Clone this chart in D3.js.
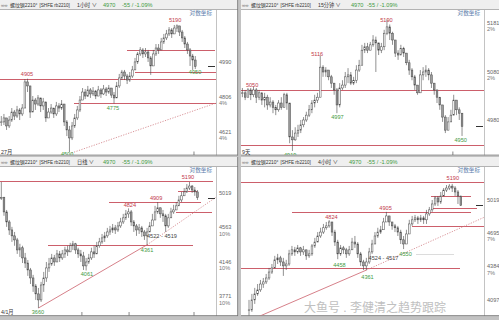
<!DOCTYPE html>
<html lang="zh">
<head>
<meta charset="utf-8">
<title>螺纹钢2210 四周期</title>
<script src="https://d3js.org/d3.v7.min.js"></script>
<style>
  body { margin: 0; background: #c2c2c2; }
  svg { display: block; }
  text { font-family: "Liberation Sans", Arial, "Noto Sans CJK SC", sans-serif; }
</style>
</head>
<body>
<svg id="chart" width="499" height="320"></svg>
<script>
// ---------- data ----------
// panel 1: 1小时
var p1Close = [4678,4699,4657,4688,4730,4709,4741,4720,4751,4888, 4867,4730,4793,4772,4804,4762,4783,4699,4730,4751,
  4720,4762,4751,4772,4678,4636,4594,4657,4699,4741, 4793,4835,4814,4846,4825,4840,4814,4846,4825,4851,
  4835,4856,4819,4804,4867,4909,4940,4919,4898,4919, 4951,4993,5035,5056,5035,5045,5014,4972,5035,5066,
  5056,5098,5119,5140,5161,5140,5171,5182,5150,5119, 5087,5056,5024,5003,4970];
var p1High = [4709,4720,4699,4709,4751,4741,4762,4751,4772,4903, 4905,4867,4814,4804,4819,4804,4804,4783,4751,4772,
  4751,4783,4777,4793,4772,4688,4657,4678,4720,4762, 4814,4856,4851,4867,4856,4861,4846,4867,4856,4872,
  4861,4872,4856,4835,4888,4930,4951,4951,4930,4940, 4972,5014,5045,5071,5066,5066,5056,5024,5056,5087,
  5087,5119,5140,5161,5176,5171,5187,5190,5182,5161, 5129,5098,5066,5035,5024];
var p1Low = [4657,4662,4636,4646,4678,4688,4699,4688,4709,4751, 4835,4699,4730,4741,4762,4730,4741,4678,4699,4720,
  4699,4709,4730,4741,4657,4604,4520,4583,4646,4688, 4730,4793,4798,4809,4804,4814,4798,4814,4804,4819,
  4814,4825,4804,4775,4804,4856,4898,4898,4877,4888, 4909,4951,4982,5024,5014,5019,4993,4925,4972,5024,
  5035,5056,5087,5108,5129,5119,5140,5150,5129,5098, 5066,5035,4972,4951,4956];
var p1Lines = [[4905, 0, 82.4], [5055, 48.5, 82.1], [4775, 28.2, 82.4], [4940, 51.5, 82.4]];
var p1TrendSolid = [];
var p1TrendDotted = [[27.3, 4515], [82.4, 4777]];
var p1Marks = [["4905", 10.3, 4930, "hi"], ["5190", 66.8, 5213, "hi"], ["4775", 43.1, 4751, "lo"],
  ["4500", 25.6, 4510, "lo"], ["4950", 74.4, 4940, "lo"]];
var p1Axis = [4990, 4806, 4621];
var p1AxisPct = ["", "4%", "4%"];
var p1Ticks = [74];

// panel 2: 15分钟
var p2Close = [5039,5030,5045,5035,5045,5030,5039,5024,5030,5014, 5020,5009,5004,5018,5009,5035,5018,4948,4942,4956,
  4962,4973,4983,4993,5004,5018,5024,5030,5092,5082, 5086,5072,5059,5045,5014,5049,5055,5072,5076,5059,
  5065,5086,5096,5127,5134,5127,5138,5148,5142,5127, 5134,5162,5175,5162,5148,5121,5117,5130,5121,5101,
  5086,5072,5055,5039,5076,5082,5086,5076,5059,5045, 5030,5014,4989,4962,4979,4993,5024,5004,4997,4970];
var p2High = [5049,5045,5049,5049,5052,5049,5045,5039,5039,5035, 5030,5024,5014,5024,5030,5039,5039,4983,4962,4968,
  4973,4983,4989,5000,5014,5024,5035,5039,5116,5096, 5092,5086,5076,5059,5049,5059,5065,5082,5090,5082,
  5072,5096,5107,5138,5142,5142,5144,5158,5155,5134, 5142,5169,5190,5180,5165,5148,5127,5138,5134,5121,
  5107,5090,5076,5055,5086,5092,5096,5090,5082,5059, 5045,5030,5014,4993,4989,5004,5035,5024,5009,4997];
var p2Low = [5030,5024,5030,5024,5030,5018,5024,5014,5009,5004, 5009,4997,4993,5000,5004,5009,5004,4935,4919,4940,
  4948,4956,4968,4979,4989,4997,5009,5018,5030,5072, 5072,5065,5049,5035,4997,5009,5045,5049,5059,5055,
  5055,5059,5082,5096,5121,5121,5127,5134,5082,5117, 5121,5127,5158,5148,5138,5113,5107,5117,5113,5096,
  5076,5065,5045,5035,5039,5065,5072,5065,5049,5035, 5018,5004,4979,4956,4962,4979,4993,4993,4983,4950];
var p2Lines = [[5045, 0, 87.4], [4931, 0, 87.4]];
var p2TrendSolid = [];
var p2TrendDotted = [];
var p2Marks = [["5050", 4, 5055, "hi"], ["5116", 27.4, 5119, "hi"], ["5190", 52.3, 5189, "hi"],
  ["4997", 34.7, 4989, "lo"], ["4919", 17.7, 4911, "lo"], ["4950", 79, 4942, "lo"]];
var p2Axis = [5181, 5080, 4980];
var p2AxisPct = ["2%", "2%", ""];
var p2Ticks = [76.2];

// panel 3: 日线
var p3Close = [4969,4777,4646,4544,4470,4420,4299,4325,4205,4146, 4067,3978,3890,3806,3743,3901,3978,4090,4135,4205,
  4158,4252,4205,4252,4299,4276,4349,4373,4299,4252, 4228,4113,4158,4205,4276,4252,4349,4396,4445,4470,
  4519,4544,4570,4544,4595,4646,4699,4751,4777,4646, 4595,4544,4570,4519,4470,4519,4595,4671,4777,4832,
  4751,4726,4595,4699,4777,4803,4858,4938,4995,5049, 5104,5132,5076,5049,4970];
var p3High = [5190,4982,4803,4671,4583,4519,4445,4373,4349,4264, 4181,4090,4012,3912,3869,3935,4045,4158,4205,4252,
  4240,4299,4287,4299,4337,4349,4384,4408,4384,4325, 4299,4276,4205,4252,4325,4349,4396,4445,4494,4519,
  4570,4595,4620,4608,4646,4699,4751,4803,4824,4803, 4671,4620,4620,4595,4544,4570,4646,4751,4858,4909,
  4832,4803,4751,4751,4832,4872,4909,4995,5049,5104, 5161,5190,5147,5118,5076];
var p3Low = [4938,4726,4583,4482,4396,4349,4252,4217,4146,4090, 4001,3912,3827,3743,3660,3722,3827,3935,4045,4113,
  4113,4158,4158,4181,4205,4228,4276,4299,4252,4205, 4158,4067,4061,4135,4181,4205,4276,4325,4373,4396,
  4445,4482,4507,4494,4519,4570,4620,4671,4699,4595, 4519,4470,4494,4458,4420,4361,4522,4595,4699,4751,
  4699,4646,4519,4570,4699,4751,4803,4858,4909,4995, 5035,5076,5035,4995,4938];
var p3Lines = [[5200, 0, 80.4], [5061, 67.2, 74.3], [4909, 41.1, 75.8], [4782, 66.4, 80], [4361, 18.1, 72.8]];
var p3TrendSolid = [[14.5, 3660], [55.5, 4361]];
var p3TrendDotted = [[55.5, 4361], [81.5, 4976]];
var p3Marks = [["5190", 70.9, 5262, "hi"], ["4824", 49, 4872, "hi"], ["4909", 58.9, 4969, "hi"],
  ["4522 - 4519", 61.1, 4470, "note"], ["4361", 55.5, 4299, "lo"], ["4061", 32.8, 4023, "lo"], ["3660", 14.3, 3620, "lo"]];
var p3Axis = [5019, 4563, 4146, 3771];
var p3AxisPct = ["", "10%", "10%", "10%"];
var p3Ticks = [30.9, 48.7, 73.2];

// panel 4: 4小时
var p4Close = [4024,4106,4156,4190,4240,4258,4292,4344,4380,4452, 4470,4433,4398,4415,4506,4543,4524,4561,4524,4543,
  4488,4506,4579,4615,4672,4709,4750,4768,4806,4709, 4615,4506,4561,4543,4506,4543,4615,4597,4506,4433,
  4398,4433,4524,4597,4672,4709,4731,4806,4865,4806, 4768,4750,4709,4636,4597,4691,4787,4827,4846,4827,
  4846,4827,4885,4925,4984,5045,5004,5065,5126,5147, 5167,5147,5106,5065,4970];
var p4High = [4106,4156,4207,4240,4275,4292,4327,4380,4415,4488, 4506,4488,4470,4452,4543,4579,4570,4588,4570,4579,
  4543,4543,4597,4654,4709,4750,4787,4806,4824,4806, 4731,4636,4588,4579,4561,4579,4654,4672,4615,4524,
  4452,4470,4561,4636,4709,4750,4768,4846,4905,4865, 4806,4787,4768,4731,4672,4731,4827,4865,4875,4865,
  4875,4865,4925,4954,5024,5065,5065,5106,5147,5178, 5188,5190,5167,5126,5065];
var p4Low = [3960,4008,4073,4140,4173,4207,4240,4275,4327,4380, 4415,4398,4310,4362,4398,4488,4488,4506,4488,4497,
  4452,4470,4488,4561,4615,4654,4691,4731,4750,4672, 4579,4458,4488,4506,4470,4488,4561,4561,4470,4398,
  4362,4361,4415,4506,4597,4654,4691,4731,4806,4768, 4731,4709,4672,4597,4550,4597,4709,4768,4806,4787,
  4806,4787,4787,4865,4905,4964,4964,4984,5065,5106, 5126,5106,5065,4984,4964];
var p4Lines = [[5215, -2.3, 82.6], [5068, 64, 78], [4941, 64.4, 80.1], [4906, 15.6, 78], [4771, 57.3, 82.6], [4383, -2.3, 74.2]];
var p4Guides = [[4506, 58.7, 72.1]];
var p4TrendSolid = [[3.66, 3968], [41.5, 4361]];
var p4TrendDotted = [[41.5, 4361], [83, 4856]];
var p4Marks = [["5190", 71.7, 5252, "hi"], ["4824", 29.3, 4856, "hi"], ["4905", 48.2, 4945, "hi"],
  ["4458", 32.1, 4407, "lo"], ["4361", 41.9, 4301, "lo"], ["4524 - 4517", 47.5, 4470, "note"], ["4550", 55.2, 4506, "lo"]];
var p4Axis = [5019, 4695, 4384, 4097];
var p4AxisPct = ["", "7%", "7%", ""];
var p4Ticks = [];

var lastPrice = 4970;
var changeText = "-55 / -1.09%";

// ---------- layout ----------
var svg = d3.select("#chart");
var defs = svg.append("defs");

var panels = [
  { left: 0, top: 0, width: 238, height: 155.5, axisX: 216, period: "1小时", priceX: 103, chgX: 122, dateLabel: "27月",
    slots: [0, 82.4], log: false, yDomain: [4621, 4990], yRange: [132.8, 62.5],
    close: p1Close, high: p1High, low: p1Low, lines: p1Lines, guides: [], trendSolid: p1TrendSolid, trendDotted: p1TrendDotted,
    marks: p1Marks, axis: p1Axis, pct: p1AxisPct, ticks: p1Ticks },
  { left: 241, top: 0, width: 258, height: 155.5, axisX: 484, period: "15分钟", priceX: 110, chgX: 126, dateLabel: "9天",
    slots: [0, 87.4], log: false, yDomain: [4919, 5181], yRange: [151, 24],
    close: p2Close, high: p2High, low: p2Low, lines: p2Lines, guides: [], trendSolid: p2TrendSolid, trendDotted: p2TrendDotted,
    marks: p2Marks, axis: p2Axis, pct: p2AxisPct, ticks: p2Ticks },
  { left: 0, top: 157, width: 238, height: 159, axisX: 216, period: "日线", priceX: 103, chgX: 122, dateLabel: "4/1月",
    slots: [0, 81.5], log: true, yDomain: [3660, 5190], yRange: [308, 182],
    close: p3Close, high: p3High, low: p3Low, lines: p3Lines, guides: [], trendSolid: p3TrendSolid, trendDotted: p3TrendDotted,
    marks: p3Marks, axis: p3Axis, pct: p3AxisPct, ticks: p3Ticks },
  { left: 241, top: 157, width: 258, height: 159, axisX: 484, period: "4小时", priceX: 108, chgX: 126, dateLabel: "",
    slots: [-2.3, 82.6], log: true, yDomain: [4097, 5019], yRange: [301, 200.5],
    close: p4Close, high: p4High, low: p4Low, lines: p4Lines, guides: p4Guides, trendSolid: p4TrendSolid, trendDotted: p4TrendDotted,
    marks: p4Marks, axis: p4Axis, pct: p4AxisPct, ticks: p4Ticks }
];

var red = "#cc5f6b", redText = "#c23a4a", greenText = "#3f9a3f", fs = 5.6;
var edge = "#474747";

panels.forEach(function (p, k) {
  var g = svg.append("g");
  var plotTop = p.top + 9.5, plotBottom = p.top + p.height;

  g.append("rect").attr("x", p.left).attr("y", p.top).attr("width", p.width).attr("height", p.height).attr("fill", "#fff");
  g.append("rect").attr("x", p.left).attr("y", p.top).attr("width", p.width).attr("height", 9).attr("fill", "#efefef");
  g.append("line").attr("x1", p.left).attr("x2", p.left + p.width).attr("y1", plotTop).attr("y2", plotTop)
    .attr("stroke", "#a0a0a0").attr("stroke-width", 0.8);
  g.append("line").attr("x1", p.axisX + 0.5).attr("x2", p.axisX + 0.5).attr("y1", plotTop).attr("y2", plotBottom)
    .attr("stroke", "#b4b4b4").attr("stroke-width", 0.8);
  g.append("line").attr("x1", p.left).attr("x2", p.left + p.width).attr("y1", plotBottom - 0.4).attr("y2", plotBottom - 0.4)
    .attr("stroke", "#6e6e6e").attr("stroke-width", 0.8);
  if (p.left + p.width < 499) {
    g.append("line").attr("x1", p.left + p.width - 0.4).attr("x2", p.left + p.width - 0.4).attr("y1", p.top).attr("y2", plotBottom)
      .attr("stroke", "#6e6e6e").attr("stroke-width", 0.8);
  }

  // header
  var hy = p.top + 6.6;
  g.append("text").attr("x", p.left + 1).attr("y", hy).attr("font-size", 4.6).attr("fill", "#555").text("∞∞");
  g.append("text").attr("x", p.left + 10).attr("y", hy).attr("font-size", 4.9).attr("fill", "#333").text("螺纹钢2210°");
  g.append("text").attr("x", p.left + 39.5).attr("y", hy).attr("font-size", 4.6).attr("fill", "#333").text("[SHFE rb2210]");
  g.append("text").attr("x", p.left + 77).attr("y", hy).attr("font-size", 5.2).attr("fill", "#333").text(p.period + " ∨");
  g.append("text").attr("x", p.left + p.priceX).attr("y", hy).attr("font-size", fs).attr("fill", greenText).text(lastPrice);
  g.append("text").attr("x", p.left + p.chgX).attr("y", hy).attr("font-size", fs).attr("fill", greenText).text(changeText);

  var x = d3.scaleLinear().domain(p.slots).range([p.left, p.axisX]);
  var y = (p.log ? d3.scaleLog() : d3.scaleLinear()).domain(p.yDomain).range(p.yRange);
  var sy = function (v) { return Math.round(y(v)) + 0.5; };

  defs.append("clipPath").attr("id", "clip" + k).append("rect")
    .attr("x", p.left).attr("y", plotTop + 0.5).attr("width", p.axisX - p.left).attr("height", plotBottom - plotTop - 1);
  var plot = g.append("g").attr("clip-path", "url(#clip" + k + ")");

  // support / resistance levels
  plot.selectAll("line.guide").data(p.guides).join("line").attr("class", "guide")
    .attr("x1", function (d) { return x(d[1]); }).attr("x2", function (d) { return x(d[2]); })
    .attr("y1", function (d) { return sy(d[0]); }).attr("y2", function (d) { return sy(d[0]); })
    .attr("stroke", "#dcdcdc").attr("stroke-width", 1).attr("shape-rendering", "crispEdges");
  plot.selectAll("line.level").data(p.lines).join("line").attr("class", "level")
    .attr("x1", function (d) { return x(d[1]); }).attr("x2", function (d) { return x(d[2]); })
    .attr("y1", function (d) { return sy(d[0]); }).attr("y2", function (d) { return sy(d[0]); })
    .attr("stroke", red).attr("stroke-width", 1).attr("shape-rendering", "crispEdges");

  var tl = d3.line().x(function (d) { return x(d[0]); }).y(function (d) { return y(d[1]); });
  if (p.trendSolid.length) plot.append("path").attr("d", tl(p.trendSolid)).attr("fill", "none").attr("stroke", red).attr("stroke-width", 0.8);
  if (p.trendDotted.length) plot.append("path").attr("d", tl(p.trendDotted)).attr("fill", "none")
    .attr("stroke", "#cf7a80").attr("stroke-width", 0.8).attr("stroke-dasharray", "1.2,1.4");

  // candles
  var bars = p.close.map(function (c, i) {
    var o = i ? p.close[i - 1] : c;
    return { i: i, o: o, c: c, h: Math.max(p.high[i], o, c), l: Math.min(p.low[i], o, c) };
  });
  var bw = 1.7;
  plot.selectAll("line.wick").data(bars).join("line").attr("class", "wick")
    .attr("x1", function (d) { return x(d.i + 0.5); }).attr("x2", function (d) { return x(d.i + 0.5); })
    .attr("y1", function (d) { return y(d.h); }).attr("y2", function (d) { return y(d.l); })
    .attr("stroke", edge).attr("stroke-width", 0.6);
  plot.selectAll("rect.body").data(bars).join("rect").attr("class", "body")
    .attr("x", function (d) { return x(d.i + 0.5) - bw / 2; }).attr("width", bw)
    .attr("y", function (d) { return y(Math.max(d.o, d.c)); })
    .attr("height", function (d) { return Math.max(0.6, Math.abs(y(d.o) - y(d.c))); })
    .attr("fill", function (d) { return d.c >= d.o ? "#ffffff" : "#9c9c9c"; })
    .attr("stroke", edge).attr("stroke-width", 0.5);

  // high / low annotations
  plot.selectAll("text.mark").data(p.marks).join("text").attr("class", "mark")
    .attr("x", function (d) { return x(d[1]); }).attr("y", function (d) { return y(d[2]); })
    .attr("text-anchor", "middle").attr("dominant-baseline", "central").attr("font-size", fs)
    .attr("fill", function (d) { return d[3] === "hi" ? redText : d[3] === "lo" ? greenText : "#444"; })
    .text(function (d) { return d[0]; });

  // date ticks and label
  plot.selectAll("line.dtick").data(p.ticks).join("line").attr("class", "dtick")
    .attr("x1", function (d) { return x(d); }).attr("x2", function (d) { return x(d); })
    .attr("y1", plotBottom - 4).attr("y2", plotBottom).attr("stroke", "#555").attr("stroke-width", 0.7);
  if (p.dateLabel) g.append("text").attr("x", p.left + 1).attr("y", plotBottom - 1.6).attr("font-size", fs - 0.3)
    .attr("fill", "#333").text(p.dateLabel);

  g.append("text").attr("x", p.axisX - 4).attr("y", plotTop + 5.6).attr("text-anchor", "end").attr("font-size", fs)
    .attr("fill", "#5a7cab").text("对数坐标");

  // current price marker
  g.append("line").attr("x1", p.axisX - 8).attr("x2", p.axisX - 1).attr("y1", sy(lastPrice)).attr("y2", sy(lastPrice))
    .attr("stroke", "#333").attr("stroke-width", 1);

  // right axis
  var ax = g.selectAll("g.ax").data(p.axis).join("g").attr("class", "ax");
  ax.append("text").attr("x", p.axisX + 3).attr("y", function (d) { return y(d) - 1; })
    .attr("dominant-baseline", "central").attr("font-size", fs).attr("fill", "#666").text(function (d) { return d; });
  ax.append("text").attr("x", p.axisX + 3).attr("y", function (d) { return y(d) + 5.4; })
    .attr("dominant-baseline", "central").attr("font-size", fs).attr("fill", "#777")
    .text(function (d, i) { return p.pct[i]; });
});

// watermark
svg.append("text").attr("x", 446).attr("y", 311.5).attr("text-anchor", "end").attr("font-size", 12)
  .attr("font-family", "Noto Sans CJK SC").attr("fill", "#bdbdbd").attr("stroke", "#ffffff").attr("stroke-width", 1.2)
  .attr("paint-order", "stroke").attr("opacity", 0.95)
  .text("大鱼号 . 李健清之趋势跟踪");
</script>
</body>
</html>
